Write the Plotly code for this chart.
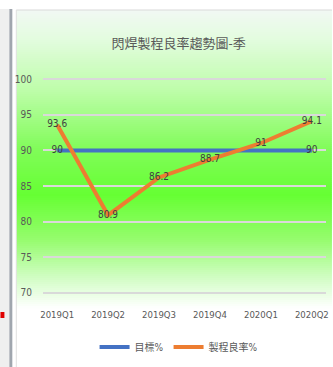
import plotly.graph_objects as go

categories = ["2019Q1", "2019Q2", "2019Q3", "2019Q4", "2020Q1", "2020Q2"]
target = [90, 90, 90, 90, 90, 90]
target_labels = ["90", "", "", "", "", "90"]
yield_rate = [93.6, 80.9, 86.2, 88.7, 91, 94.1]
yield_labels = ["93.6", "80.9", "86.2", "88.7", "91", "94.1"]
title = "閃焊製程良率趨勢圖-季"

W, H = 333, 367
L, R, T, B = 43, 329, 77, 295

def px(x):
    return (x - L) / (R - L)

def py(y):
    return (B - y) / (B - T)

FONT = "DejaVu Sans Condensed, Noto Sans CJK TC, sans-serif"

fig = go.Figure()
fig.add_trace(go.Scatter(
    x=categories, y=target, name="目標%", mode="lines+text",
    line=dict(color="#4472C4", width=4),
    text=target_labels, textposition="middle center",
    textfont=dict(family=FONT, size=10, color="#404040"),
))
fig.add_trace(go.Scatter(
    x=categories, y=yield_rate, name="製程良率%", mode="lines+text",
    line=dict(color="#ED7D31", width=4),
    text=yield_labels, textposition="middle center",
    textfont=dict(family=FONT, size=10, color="#404040"),
))

shapes = []
stops = [(10, (242, 248, 244)), (40, (226, 252, 222)), (90, (190, 253, 170)),
         (150, (128, 252, 88)), (195, (102, 255, 51)), (240, (150, 252, 110)),
         (275, (205, 253, 190)), (308, (255, 255, 255))]

def col(y):
    for (y0, c0), (y1, c1) in zip(stops, stops[1:]):
        if y0 <= y <= y1:
            t = (y - y0) / (y1 - y0)
            return "rgb(%d,%d,%d)" % tuple(round(a + (b - a) * t) for a, b in zip(c0, c1))
    return "rgb(255,255,255)"

step = 2
y = 10
while y < 308:
    shapes.append(dict(type="rect", xref="paper", yref="paper", layer="below",
                       x0=px(16), x1=px(W + 2), y0=py(y), y1=py(y + step + 0.5),
                       fillcolor=col(y + step / 2), line=dict(width=0)))
    y += step
shapes.append(dict(type="line", xref="paper", yref="paper", layer="below",
                   x0=px(16), x1=px(W + 2), y0=py(10), y1=py(10),
                   line=dict(color="#d9d9d9", width=1)))
shapes.append(dict(type="line", xref="paper", yref="paper", layer="below",
                   x0=px(16), x1=px(16), y0=py(10), y1=py(H + 2),
                   line=dict(color="#e0e0e0", width=1)))
shapes.append(dict(type="rect", xref="paper", yref="paper", layer="below",
                   x0=px(-1), x1=px(9), y0=py(9), y1=py(H + 2),
                   fillcolor="#efefef", line=dict(width=0)))
shapes.append(dict(type="rect", xref="paper", yref="paper", layer="below",
                   x0=px(9), x1=px(12), y0=py(9), y1=py(H + 2),
                   fillcolor="#a0a6ae", line=dict(width=0)))
shapes.append(dict(type="rect", xref="paper", yref="paper", layer="below",
                   x0=px(0), x1=px(4), y0=py(312), y1=py(318),
                   fillcolor="#e00000", line=dict(width=0)))

fig.update_layout(
    width=W, height=H,
    margin=dict(l=L, r=W - R, t=T, b=H - B),
    paper_bgcolor="white", plot_bgcolor="rgba(0,0,0,0)",
    shapes=shapes,
    title=dict(text=title, xref="paper", x=px(180), xanchor="center",
               yref="container", y=1 - 43 / H, yanchor="middle",
               font=dict(family=FONT, size=13, color="#595959")),
    xaxis=dict(showgrid=False, showline=False, ticks="", ticklabelstandoff=12,
               tickfont=dict(family=FONT, size=9.5, color="#595959")),
    yaxis=dict(range=[69.7, 100.3], dtick=5, tick0=70, showgrid=True, gridcolor="#d9d9d9",
               gridwidth=1.5, zeroline=False, showline=False, ticks="", ticklabelstandoff=10,
               tickfont=dict(family=FONT, size=10, color="#595959")),
    legend=dict(orientation="h", xref="paper", x=px(180), xanchor="center",
                y=py(347), yanchor="middle",
                font=dict(family=FONT, size=10, color="#595959"),
                bgcolor="rgba(0,0,0,0)", itemwidth=30, tracegroupgap=0),
    showlegend=True,
)

fig.write_html("out.html")
